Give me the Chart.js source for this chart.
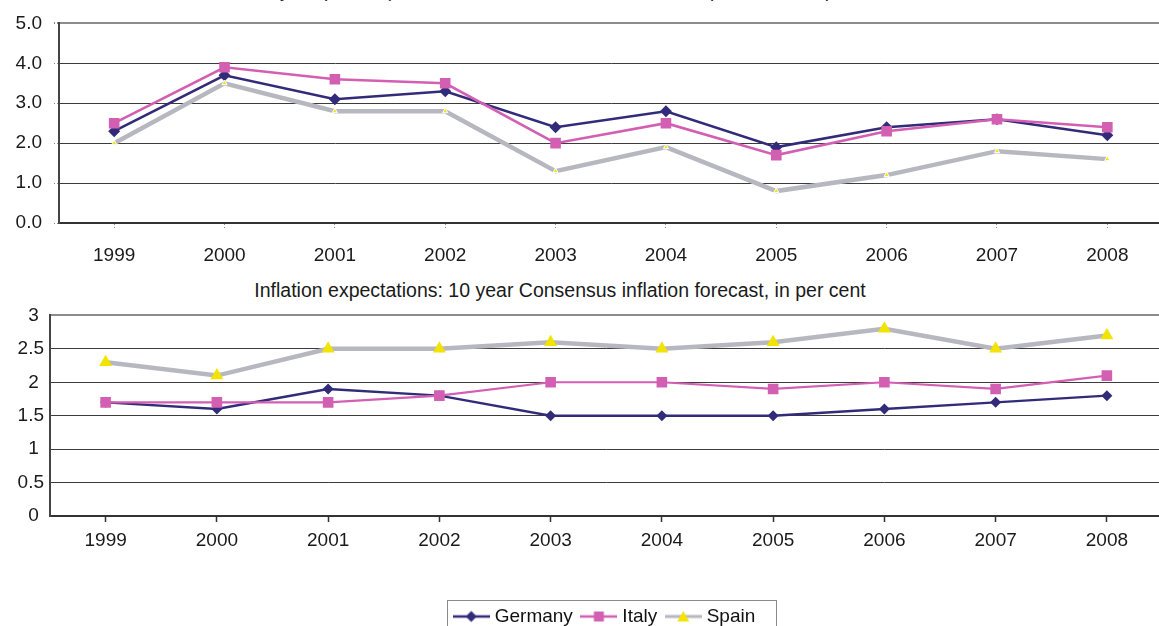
<!DOCTYPE html>
<html>
<head>
<meta charset="utf-8">
<script src="https://cdn.jsdelivr.net/npm/chart.js@4.4.1/dist/chart.umd.min.js"></script>
<style>
  html, body { margin: 0; padding: 0; background: #fff; overflow: hidden; width: 1159px; height: 626px; }
  body { position: relative; font-family: 'Liberation Sans', Arial, sans-serif; color: #1a1a1a; }
  .box { position: absolute; left: 0; width: 1170px; }
  #topBox { top: 0; height: 270px; }
  #bottomBox { top: 300px; height: 336px; }
  .ttl { position: absolute; white-space: nowrap; font-size: 19px; line-height: 19px; transform: translateX(-50%); }
  #topTitle { top: -19px; left: 573px; font-size: 18.6px; }
  #bottomTitle { top: 281px; left: 560px; font-size: 19.5px; }
</style>
</head>
<body>
<div id="topTitle" class="ttl">10 year (ex ante) real interest rate based on inflation expectations, in per cent</div>
<div id="topBox" class="box"><canvas id="realRate"></canvas></div>
<div id="bottomTitle" class="ttl">Inflation expectations: 10 year Consensus inflation forecast, in per cent</div>
<div id="bottomBox" class="box"><canvas id="inflExp"></canvas></div>
<script>
const years = ['1999', '2000', '2001', '2002', '2003', '2004', '2005', '2006', '2007', '2008'];
const seriesNames = ['Germany', 'Italy', 'Spain'];

// real interest rate, per cent
const germanyReal = [2.3, 3.7, 3.1, 3.3, 2.4, 2.8, 1.9, 2.4, 2.6, 2.2];
const italyReal   = [2.5, 3.9, 3.6, 3.5, 2.0, 2.5, 1.7, 2.3, 2.6, 2.4];
const spainReal   = [2.0, 3.5, 2.8, 2.8, 1.3, 1.9, 0.8, 1.2, 1.8, 1.6];

// consensus inflation forecast, per cent
const germanyExp = [1.7, 1.6, 1.9, 1.8, 1.5, 1.5, 1.5, 1.6, 1.7, 1.8];
const italyExp   = [1.7, 1.7, 1.7, 1.8, 2.0, 2.0, 1.9, 2.0, 1.9, 2.1];
const spainExp   = [2.3, 2.1, 2.5, 2.5, 2.6, 2.5, 2.6, 2.8, 2.5, 2.7];

const realTicks = ['0.0', '1.0', '2.0', '3.0', '4.0', '5.0'];
const expTicks = ['0 ', '0.5', '1 ', '1.5', '2 ', '2.5', '3 '];

const NAVY = '#322b7a';
const PINK = '#d35fb3';
const GREY = '#b7b7bf';
const YELLOW = '#f2e400';
const FONT = "'Liberation Sans', Arial, sans-serif";

Chart.defaults.font.family = FONT;
Chart.defaults.font.size = 19;
Chart.defaults.color = '#1a1a1a';
Chart.defaults.animation = false;

// little line+marker glyphs for the legend
function glyph(lineColor, lineW, marker) {
  const c = document.createElement('canvas');
  c.width = 37; c.height = 16;
  const g = c.getContext('2d');
  g.strokeStyle = lineColor;
  g.lineWidth = lineW;
  g.beginPath(); g.moveTo(0, 8); g.lineTo(37, 8); g.stroke();
  g.beginPath();
  if (marker === 'diamond') {
    g.fillStyle = NAVY;
    g.moveTo(18.5, 2.5); g.lineTo(24, 8); g.lineTo(18.5, 13.5); g.lineTo(13, 8);
  } else if (marker === 'square') {
    g.fillStyle = PINK;
    g.rect(13.5, 3, 10, 10);
  } else {
    g.fillStyle = YELLOW;
    g.moveTo(18.5, 2.5); g.lineTo(24.5, 13); g.lineTo(12.5, 13);
  }
  g.closePath(); g.fill();
  return c;
}
const glyphs = [glyph(NAVY, 2.5, 'diamond'), glyph(PINK, 2.5, 'square'), glyph(GREY, 3, 'triangle')];

const legendFrame = {
  id: 'legendFrame',
  afterDraw(chart) {
    const boxes = chart.legend && chart.legend.legendHitBoxes;
    if (!boxes || !boxes.length) return;
    const first = boxes[0], last = boxes[boxes.length - 1];
    const x0 = Math.round(first.left - 10);
    const x1 = Math.round(last.left + last.width + 21);
    const ctx = chart.ctx;
    ctx.save();
    ctx.strokeStyle = '#8a8a8a';
    ctx.lineWidth = 1;
    ctx.strokeRect(x0 + 0.5, Math.round(first.top - 7.5) + 0.5, x1 - x0, first.height + 16);
    ctx.restore();
  }
};

function yGrid(ctx) {
  return ctx.index === ctx.chart.scales.y.ticks.length - 1 ? '#8c8c8c' : '#3c3c3c';
}
function yGridW(ctx) {
  return ctx.index === ctx.chart.scales.y.ticks.length - 1 ? 2 : 1;
}

function lineSet(label, data, color, width, style, radius, fill, border, order) {
  return {
    label: label,
    data: data,
    borderColor: color,
    borderWidth: width,
    pointStyle: style,
    pointRadius: radius,
    pointBackgroundColor: fill,
    pointBorderColor: border,
    pointBorderWidth: border === fill ? 0 : 1,
    tension: 0,
    fill: false,
    order: order
  };
}

new Chart(document.getElementById('realRate'), {
  type: 'line',
  data: {
    labels: years,
    datasets: [
      lineSet(seriesNames[0], germanyReal, NAVY, 2.6, 'rectRot', 6, NAVY, NAVY, 3),
      lineSet(seriesNames[1], italyReal, PINK, 2.6, 'rect', 7.5, PINK, PINK, 2),
      lineSet(seriesNames[2], spainReal, GREY, 4.5, 'triangle', 3, YELLOW, '#ffffff', 1)
    ]
  },
  options: {
    responsive: true,
    maintainAspectRatio: false,
    layout: { padding: { top: 20, left: 0, right: 0, bottom: 0 } },
    plugins: { legend: { display: false }, title: { display: false }, tooltip: { enabled: false } },
    scales: {
      x: {
        offset: true,
        afterFit: s => { s.height = 47; },
        grid: { drawOnChartArea: false, drawTicks: true, tickLength: 5, tickColor: '#8a8a8a', tickBorderDash: [1, 2] },
        border: { display: true, color: '#333', width: 2 },
        ticks: { padding: 16, maxRotation: 0 }
      },
      y: {
        min: 0, max: 5,
        afterFit: s => { s.width = 59; },
        grid: { color: yGrid, lineWidth: yGridW, tickLength: 5, tickColor: '#8a8a8a', tickBorderDash: [1, 2] },
        border: { display: true, color: '#444', width: 2 },
        ticks: { stepSize: 1, padding: 12, callback: (v, i) => realTicks[i] }
      }
    }
  }
});

new Chart(document.getElementById('inflExp'), {
  type: 'line',
  data: {
    labels: years,
    datasets: [
      lineSet(seriesNames[0], germanyExp, NAVY, 2.4, 'rectRot', 5.5, NAVY, NAVY, 3),
      lineSet(seriesNames[1], italyExp, PINK, 2.2, 'rect', 7.5, PINK, PINK, 2),
      lineSet(seriesNames[2], spainExp, GREY, 4.5, 'triangle', 7.5, YELLOW, YELLOW, 1)
    ]
  },
  options: {
    responsive: true,
    maintainAspectRatio: false,
    layout: { padding: { top: 15, left: 0, right: 0, bottom: 0 } },
    plugins: {
      title: { display: false },
      tooltip: { enabled: false },
      legend: {
        position: 'bottom',
        fullSize: false,
        labels: {
          usePointStyle: true,
          pointStyleWidth: 28,
          padding: 12,
          font: { size: 19 },
          generateLabels: chart => chart.data.datasets.map((ds, i) => ({
            text: ds.label,
            pointStyle: glyphs[i],
            fillStyle: ds.borderColor,
            strokeStyle: ds.borderColor,
            fontColor: '#111',
            lineWidth: 0,
            hidden: false,
            datasetIndex: i
          }))
        }
      }
    },
    scales: {
      x: {
        offset: true,
        afterFit: s => { s.height = 79; },
        grid: { drawOnChartArea: false, drawTicks: true, tickLength: 6, tickColor: '#333', tickWidth: 1.5 },
        border: { display: true, color: '#333', width: 2 },
        ticks: { padding: 7, maxRotation: 0 }
      },
      y: {
        min: 0, max: 3,
        afterFit: s => { s.width = 50; },
        grid: { color: yGrid, lineWidth: yGridW, tickLength: 2, tickColor: 'rgba(0,0,0,0)' },
        border: { display: true, color: '#444', width: 2 },
        ticks: { stepSize: 0.5, padding: 4, callback: (v, i) => expTicks[i] }
      }
    }
  },
  plugins: [legendFrame]
});
</script>
</body>
</html>
